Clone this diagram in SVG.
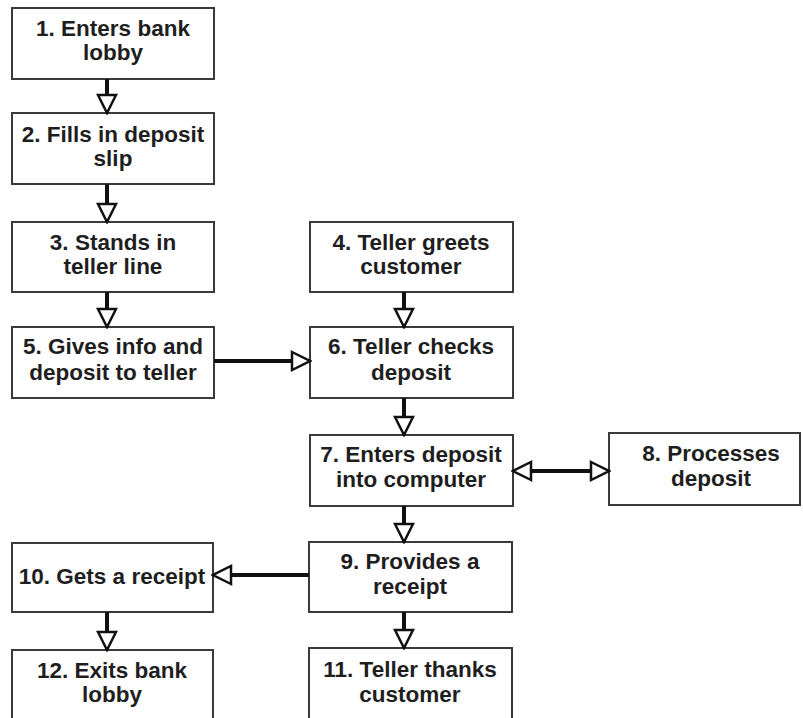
<svg xmlns="http://www.w3.org/2000/svg" width="803" height="718" viewBox="0 0 803 718">
<style>
.box{fill:#fff;stroke:#3a3a3a;stroke-width:2}
.t{font-family:"Liberation Sans",Arial,sans-serif;font-weight:bold;font-size:22.5px;fill:#1e1e1e;text-anchor:middle}
.c{fill:none;stroke:#111;stroke-width:4;marker-end:url(#tri)}
</style>
<defs>
<marker id="tri" markerUnits="userSpaceOnUse" markerWidth="22" markerHeight="22" viewBox="0 0 22 22" refX="20" refY="11" orient="auto-start-reverse">
<path d="M2,2 L20,11 L2,20 Z" fill="#fff" stroke="#111" stroke-width="2.5" stroke-linejoin="miter"/>
</marker>
</defs>
<rect width="803" height="718" fill="#fff"/>
<g id="n1"><rect class="box" x="12" y="8" width="202" height="71"/><text class="t" x="113" y="36">1. Enters bank</text><text class="t" x="113" y="60">lobby</text></g>
<g id="n2"><rect class="box" x="12" y="113" width="202" height="71"/><text class="t" x="113" y="142">2. Fills in deposit</text><text class="t" x="113" y="166">slip</text></g>
<g id="n3"><rect class="box" x="12" y="222" width="202" height="70"/><text class="t" x="113" y="250">3. Stands in</text><text class="t" x="113" y="274">teller line</text></g>
<g id="n4"><rect class="box" x="310" y="222" width="203" height="70"/><text class="t" x="411" y="250">4. Teller greets</text><text class="t" x="411" y="274">customer</text></g>
<g id="n5"><rect class="box" x="12" y="327" width="202" height="71"/><text class="t" x="113" y="354">5. Gives info and</text><text class="t" x="113" y="380">deposit to teller</text></g>
<g id="n6"><rect class="box" x="310" y="327" width="203" height="71"/><text class="t" x="411" y="354">6. Teller checks</text><text class="t" x="411" y="380">deposit</text></g>
<g id="n7"><rect class="box" x="310" y="435" width="203" height="71"/><text class="t" x="411" y="462">7. Enters deposit</text><text class="t" x="411" y="487">into computer</text></g>
<g id="n8"><rect class="box" x="609" y="433" width="191" height="72"/><text class="t" x="711" y="461">8. Processes</text><text class="t" x="711" y="486">deposit</text></g>
<g id="n9"><rect class="box" x="309" y="542" width="203" height="70"/><text class="t" x="410" y="569">9. Provides a</text><text class="t" x="410" y="594">receipt</text></g>
<g id="n10"><rect class="box" x="12" y="543" width="201" height="69"/><text class="t" x="112" y="584">10. Gets a receipt</text></g>
<g id="n11"><rect class="box" x="309" y="648" width="203" height="72"/><text class="t" x="410" y="677">11. Teller thanks</text><text class="t" x="410" y="702">customer</text></g>
<g id="n12"><rect class="box" x="12" y="650" width="201" height="70"/><text class="t" x="112" y="678">12. Exits bank</text><text class="t" x="112" y="702">lobby</text></g>
<g id="connectors">
<path class="c" d="M107,79 V113"/>
<path class="c" d="M107,184 V222"/>
<path class="c" d="M107,292 V327"/>
<path class="c" d="M404,292 V327"/>
<path class="c" d="M214,361 H310"/>
<path class="c" d="M404,398 V435"/>
<path class="c" d="M513,471 H609" style="marker-start:url(#tri)"/>
<path class="c" d="M404,506 V542"/>
<path class="c" d="M309,575 H213"/>
<path class="c" d="M107,612 V650"/>
<path class="c" d="M404,612 V648"/>
</g>
</svg>
